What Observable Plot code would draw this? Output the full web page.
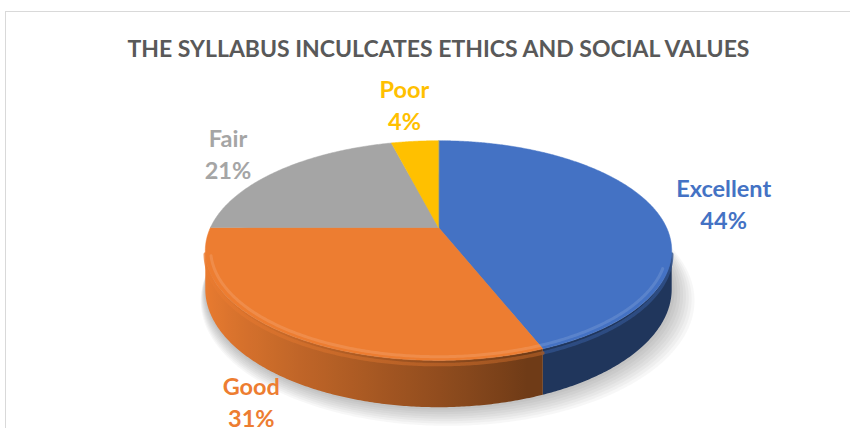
<!DOCTYPE html>
<html><head><meta charset="utf-8">
<script src="https://cdn.jsdelivr.net/npm/d3@7"></script>
<script src="https://cdn.jsdelivr.net/npm/@observablehq/plot@0.6"></script>
<style>
html,body{margin:0;padding:0;background:#fff;}
#wrap{position:relative;width:850px;height:428px;overflow:hidden;}
#border{position:absolute;left:5px;top:11px;width:900px;height:500px;border:1px solid #d9d9d9;box-sizing:border-box;}
#chart{position:absolute;left:0;top:0;}
#defs{position:absolute;left:0;top:0;width:0;height:0;}
</style></head><body>
<div id="wrap"><div id="border"></div><div id="chart"></div></div>
<svg id="defs" width="0" height="0"><defs></defs></svg>
<script>
// ---- data ----
const title = "THE SYLLABUS INCULCATES ETHICS AND SOCIAL VALUES";
const categories = ["Excellent", "Good", "Fair", "Poor"];
const percents = [44, 31, 21, 4];
const colors = ["#4472C4", "#ED7D31", "#A5A5A5", "#FFC000"];

const rows = categories.map((c, i) => ({key: c, value: percents[i], color: colors[i]}));

// ---- 3D projection helpers (unit pie, perspective tilt) ----
const A = 0.21;   // perspective strength
const H = 0.352;  // thickness (in y units)
const proj = (u, v, z = 0) => ({x: u / (1 + A * v), y: (v - z * H) / (1 + A * v)});
const arcs = d3.pie().sort(null).value(d => d.value)(rows);
const step = Math.PI / 360;
const angles = (a0, a1) => {
  const n = Math.max(2, Math.ceil((a1 - a0) / step));
  return d3.range(n + 1).map(i => a0 + (a1 - a0) * i / n);
};
const shadeOf = (color, t, mix = 0) => {
  const u = Math.sin(t);
  const k = Math.pow(Math.max(0, Math.min(1, (0.3 - u) / 1.3)), 0.9);
  const f = 0.47 + 0.53 * k;
  const c = d3.rgb(color);
  const dark = d3.rgb(c.r * f, c.g * f, c.b * f);
  return d3.interpolateRgb(dark, c)(mix);
};

// top faces
const topPts = arcs.flatMap(a => {
  const pts = [{key: a.data.key, color: a.data.color, ...proj(0, 0)}];
  for (const t of angles(a.startAngle, a.endAngle)) pts.push({key: a.data.key, color: a.data.color, ...proj(Math.sin(t), Math.cos(t))});
  return pts;
});

// visible side (front rim), one polygon per slice with a horizontal shading gradient
const t0 = Math.acos(-A), t1 = 2 * Math.PI - Math.acos(-A);
const defs = d3.select("#defs defs");
const sidePts = [], hlPts = [];
arcs.forEach((a, i) => {
  const s0 = Math.max(a.startAngle, t0), s1 = Math.min(a.endAngle, t1);
  if (s1 <= s0) return;
  const ts = angles(s0, s1);
  const xs = ts.map(t => proj(Math.sin(t), Math.cos(t)).x);
  const x0 = d3.min(xs), x1 = d3.max(xs);
  const stops = ts.map((t, j) => ({o: (xs[j] - x0) / (x1 - x0), t})).sort((p, q) => p.o - q.o);
  const mk = (id, mix) => {
    const g = defs.append("linearGradient").attr("id", id).attr("x1", 0).attr("x2", 1).attr("y1", 0).attr("y2", 0);
    stops.filter((d, j) => j % 6 === 0 || j === stops.length - 1).forEach(d =>
      g.append("stop").attr("offset", d.o).attr("stop-color", shadeOf(a.data.color, d.t, mix)));
  };
  mk("side-" + i, 0);
  mk("hl-" + i, 0.45);
  ts.forEach(t => sidePts.push({id: a.data.key, fill: `url(#side-${i})`, ...proj(Math.sin(t), Math.cos(t), 0)}));
  ts.slice().reverse().forEach(t => sidePts.push({id: a.data.key, fill: `url(#side-${i})`, ...proj(Math.sin(t), Math.cos(t), 1)}));
  ts.forEach(t => hlPts.push({id: a.data.key, stroke: `url(#hl-${i})`, ...proj(Math.sin(t), Math.cos(t), 0.09)}));
});

// soft shadow under the pie
const shadowPts = d3.range(1, 9).flatMap(j =>
  angles(0, 2 * Math.PI).map(t => {
    const p = proj(Math.sin(t) * (1 + 0.007 * j), Math.cos(t) * (1 + 0.007 * j), 1);
    return {id: j, x: p.x + 0.005 * j, y: p.y - 0.01 * j};
  })
);

// rim highlight on the top face
const rimPts = angles(1.95, 4.45).map(t => ({...proj(Math.sin(t) * 0.978, Math.cos(t) * 0.978)}));

// labels (best-fit style, outside the pie)
const labels = arcs.map(a => {
  const m = (a.startAngle + a.endAngle) / 2;
  const u = Math.sin(m), v = Math.cos(m);
  const lower = v < 0;
  const k = lower ? 1.165 : 1.34 + 0.25 * Math.pow(v, 4);
  const p = proj(u * k, v * k, lower ? 1 : 0);
  return {text: `${a.data.key}\n${a.data.value}%`, color: a.data.color, ...p};
});

const chart = Plot.plot({
  width: 850, height: 428,
  marginLeft: 210, marginRight: 184, marginTop: 122, marginBottom: 96,
  x: {domain: [-1, 1], axis: null},
  y: {domain: [-1, 1], axis: null},
  color: {type: "identity"},
  style: {background: "transparent", fontFamily: "Lato", overflow: "visible"},
  marks: [
    Plot.line(shadowPts, {x: "x", y: "y", z: "id", fill: "#000", fillOpacity: 0.03, stroke: "none"}),
    Plot.line(sidePts, {x: "x", y: "y", z: "id", fill: "fill", stroke: "none", curve: "linear-closed"}),
    Plot.line(hlPts, {x: "x", y: "y", z: "id", stroke: "stroke", strokeWidth: 3.5, strokeOpacity: 0.8}),
    Plot.line(topPts, {x: "x", y: "y", z: "key", fill: "color", stroke: "color", strokeWidth: 0.5, curve: "linear-closed"}),
    Plot.line(rimPts, {x: "x", y: "y", stroke: "#fff", strokeOpacity: 0.12, strokeWidth: 3}),
    Plot.text(labels, {x: "x", y: "y", text: "text", fill: "color", fontSize: 23.5, fontWeight: "bold", lineHeight: 1.36, fontFamily: "Lato"}),
    Plot.text([title], {frameAnchor: "top", lineAnchor: "middle", dy: -73, text: d => d, fill: "#595959", fontSize: 23, fontWeight: "bold", fontFamily: "Lato"})
  ]
});
document.getElementById("chart").appendChild(chart);
</script>
</body></html>
